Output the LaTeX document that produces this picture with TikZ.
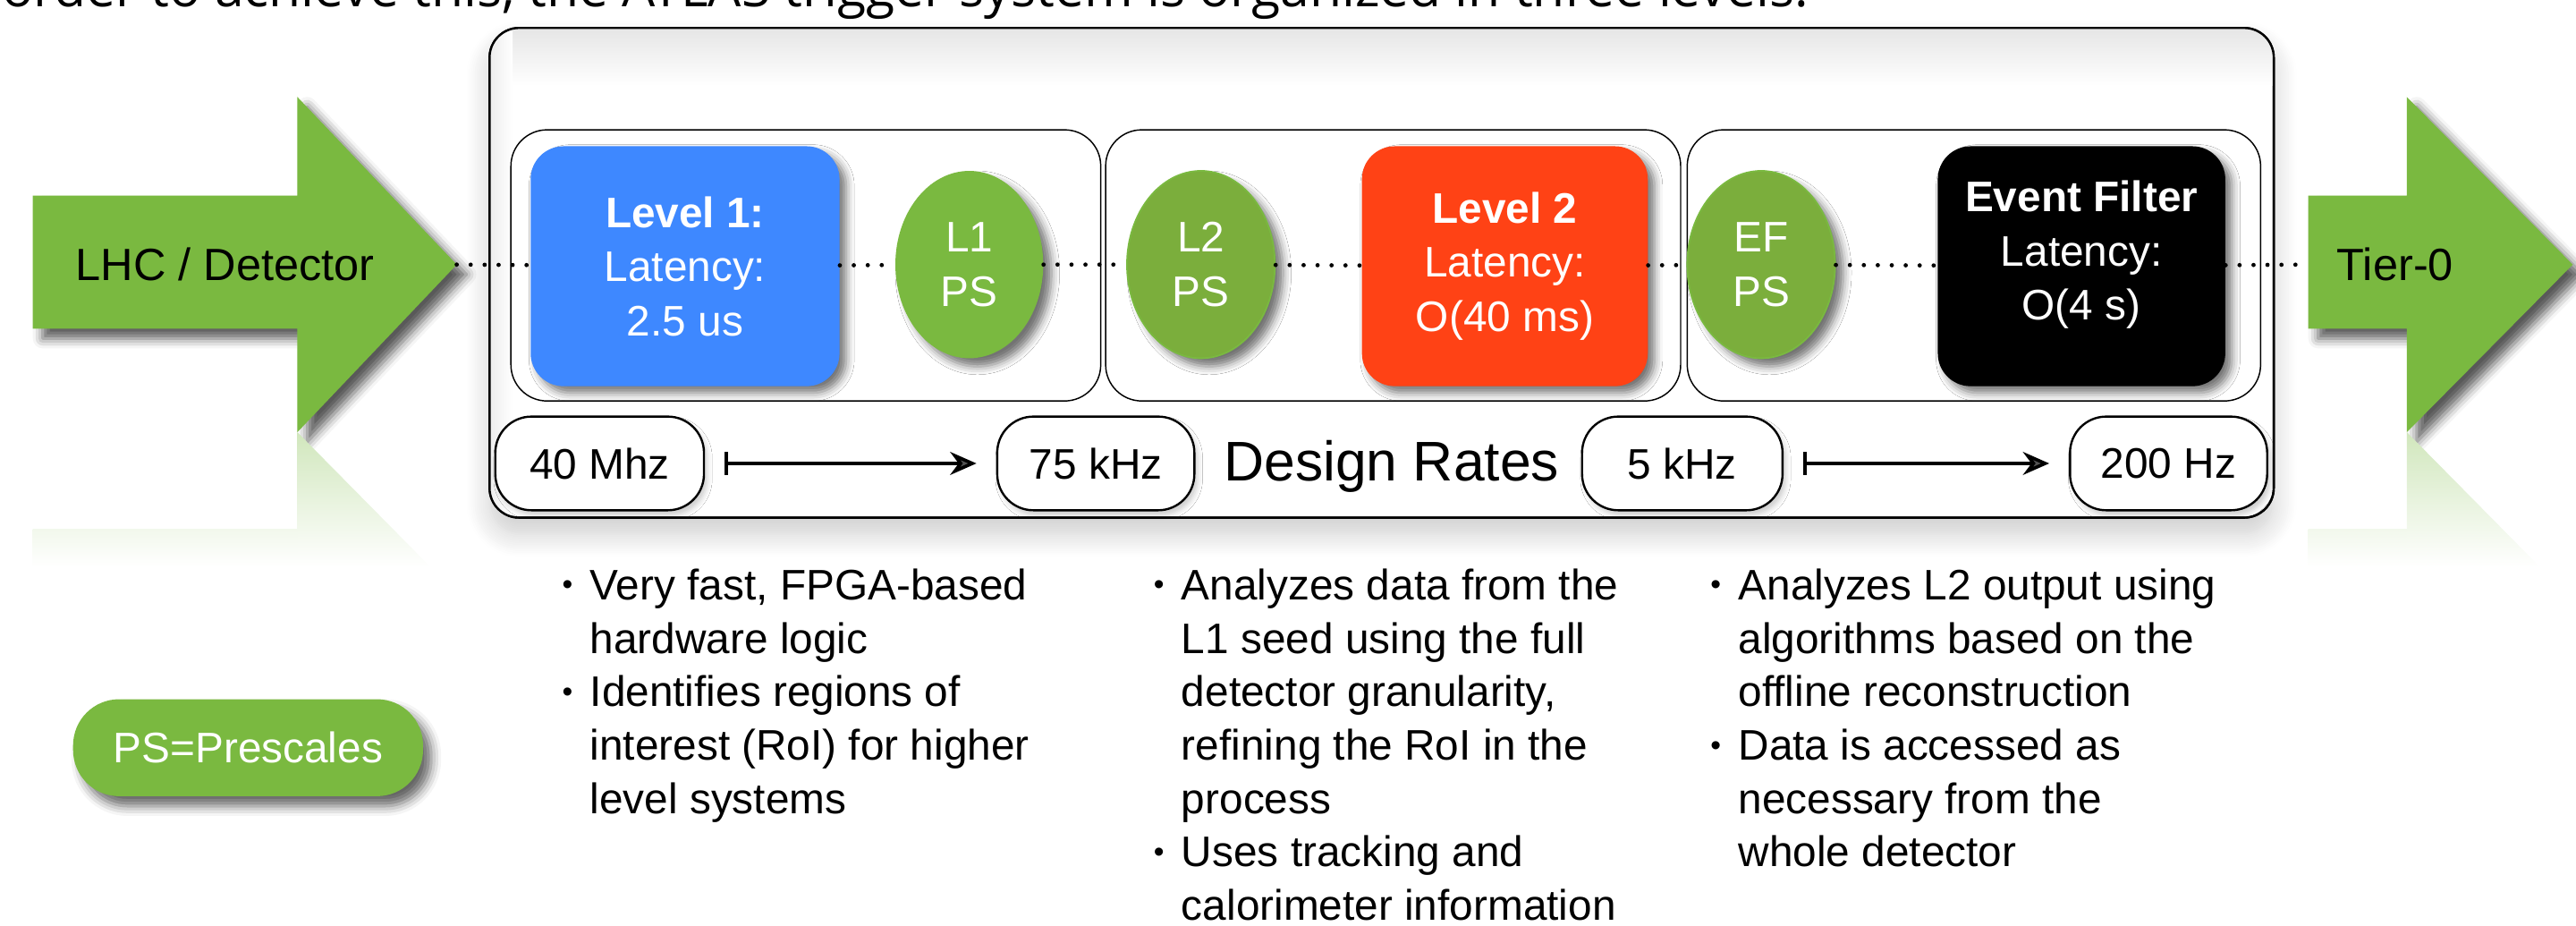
\documentclass[tikz,border=0pt]{standalone}
\usepackage{graphicx}
\usepackage{fontspec}
\setmainfont{Liberation Sans}
\newfontfamily\introfont{Open Sans}
\usetikzlibrary{arrows.meta, positioning, shapes.geometric, shadows.blur}

\definecolor{lhcgreen}{RGB}{122,185,64}
\definecolor{psgreen}{RGB}{123,174,60}
\definecolor{lvlblue}{RGB}{62,136,255}
\definecolor{lvlred}{RGB}{255,66,21}

\newcommand{\bitem}{\makebox[17pt][l]{\raisebox{3pt}{\scalebox{0.7}{\textbullet}}}}
\newcommand{\bcont}{\hspace*{17pt}}

\begin{document}
\begin{tikzpicture}[
        x=1pt, y=-1pt,
        every node/.style={font=\fontsize{26}{33}\selectfont, align=center, inner sep=0pt},
        levelbox/.style={rounded corners=20pt, text=white, minimum height=146pt,
            blur shadow={shadow xshift=4pt, shadow yshift=-4pt, shadow blur radius=5pt, shadow opacity=55}},
        psnode/.style={ellipse, text=white, minimum width=90pt, minimum height=114pt,
            blur shadow={shadow xshift=5pt, shadow yshift=-5pt, shadow blur radius=5pt, shadow opacity=55}},
        panel/.style={draw, fill=white, rounded corners=22pt, line width=0.8pt},
        ratebox/.style={draw, fill=white, rounded corners=22pt, line width=1.3pt, minimum height=57pt,
            blur shadow={shadow xshift=2pt, shadow yshift=-3pt, shadow blur radius=3pt, shadow opacity=20}},
        bigarrow/.style={fill=lhcgreen,
            blur shadow={shadow xshift=6pt, shadow yshift=-6pt, shadow blur radius=6pt, shadow opacity=65}},
        dotline/.style={line width=2.6pt, line cap=round, dash pattern=on 0pt off 8.5pt},
        rateline/.style={line width=2pt, arrows={Bar[width=14pt]-Stealth[length=16pt, width=14pt]},
            shorten <=12pt, shorten >=12pt},
        bullets/.style={anchor=north west, align=left, font=\fontsize{26}{32.5}\selectfont}
    ]
    \useasboundingbox (0,0) rectangle (1568,563);
    % Heading line cut by the page
    \node[anchor=base west, font=\introfont\fontsize{32}{36}\selectfont] (intro) at (1,4)
        {order to achieve this, the ATLAS trigger system is organized in three levels.};
    % Outer frame
    \draw[line width=1.3pt, fill=white, rounded corners=18pt,
        blur shadow={shadow xshift=0pt, shadow yshift=-10pt, shadow blur radius=14pt, shadow opacity=20, shadow blur steps=12}]
        (298,17) rectangle (1384,315);
    \begin{scope}
        \clip[rounded corners=18pt] (298,17) rectangle (1384,315);
        \shade[top color=black!10, bottom color=white] (298,17) rectangle (1384,52);
        \shade[left color=black!7, right color=white] (298,17) rectangle (312,315);
    \end{scope}
    \draw[line width=1.3pt, rounded corners=18pt] (298,17) rectangle (1384,315);
    % Panels
    \draw[panel] (311,79) rectangle (670,244);
    \draw[panel] (673,79) rectangle (1023,244);
    \draw[panel] (1027,79) rectangle (1376,244);
    % Input and output arrows
    \fill[bigarrow] (20,119) -- (181,119) -- (181,59) -- (278,161) -- (181,263) -- (181,200) -- (20,200) -- cycle;
    \shade[top color=lhcgreen!35, bottom color=white] (181,263) -- (262,345) -- (181,345) -- cycle;
    \shade[top color=lhcgreen!10, bottom color=white] (20,322) rectangle (181,345);
    \fill[bigarrow] (1405,119) -- (1465,119) -- (1465,59) -- (1566,161) -- (1465,263) -- (1465,200) -- (1405,200) -- cycle;
    \shade[top color=lhcgreen!35, bottom color=white] (1465,263) -- (1546,345) -- (1465,345) -- cycle;
    \shade[top color=lhcgreen!10, bottom color=white] (1405,322) rectangle (1465,345);
    % Define nodes
    \node[font=\fontsize{27.5}{33}\selectfont] (lhc) at (137,161) {LHC / Detector};
    \coordinate (lhctip) at (278,161);
    \node[font=\fontsize{27.5}{33}\selectfont] (tier) at (1458,161) {Tier-0};
    \coordinate (tiertail) at (1405,161);
    \node[levelbox, fill=lvlblue, minimum width=188pt] (lvl1) at (417,162) {\bfseries Level 1:\\Latency:\\2.5 us};
    \node[psnode, fill=lhcgreen] (l1ps) at (590,161) {L1\\PS};
    \node[psnode, fill=psgreen, draw=lhcgreen, line width=1pt] (l2ps) at (731,161) {L2\\PS};
    \node[levelbox, fill=lvlred, minimum width=174pt] (lvl2) at (916,162) {\bfseries Level 2\\Latency:\\O(40 ms)};
    \node[psnode, fill=psgreen, draw=lhcgreen, line width=1pt] (efps) at (1072,161) {EF\\PS};
    \node[levelbox, fill=black, minimum width=175pt,
        label={[text=white, yshift=7pt]center:{\bfseries Event Filter\\Latency:\\O(4 s)}}] (efbox) at (1267,162) {};
    % Design rates
    \node[ratebox, minimum width=127pt] (r40) at (365,282) {40 Mhz};
    \node[ratebox, minimum width=120pt] (r75) at (667,282) {75 kHz};
    \node[font=\fontsize{34}{40}\selectfont] (design) at (847,284) {Design Rates};
    \node[ratebox, minimum width=122pt] (r5) at (1024,282) {5 kHz};
    \node[ratebox, minimum width=120pt] (r200) at (1320,282) {200 Hz};
    % Draw edges
    \draw[dotline] (lhctip) -- (lvl1);
    \draw[dotline] (lvl1) -- (l1ps);
    \draw[dotline] (l1ps) -- (l2ps);
    \draw[dotline] (l2ps) -- (lvl2);
    \draw[dotline] (lvl2) -- (efps);
    \draw[dotline] (efps) -- (efbox);
    \draw[dotline] (efbox) -- (tiertail);
    \draw[rateline] (r40) -- (r75);
    \draw[rateline] (r5) -- (r200);
    % Notes under each level
    \node[bullets] (notes1) at (342,346) {\bitem Very fast, FPGA-based\\\bcont hardware logic\\\bitem Identifies regions of\\\bcont interest (RoI) for higher\\\bcont level systems};
    \node[bullets] (notes2) at (702,346) {\bitem Analyzes data from the\\\bcont L1 seed using the full\\\bcont detector granularity,\\\bcont refining the RoI in the\\\bcont process\\\bitem Uses tracking and\\\bcont calorimeter information};
    \node[bullets] (notes3) at (1041,346) {\bitem Analyzes L2 output using\\\bcont algorithms based on the\\\bcont offline reconstruction\\\bitem Data is accessed as\\\bcont necessary from the\\\bcont whole detector};
    \node[fill=lhcgreen, text=white, rounded corners=28pt, minimum width=213pt, minimum height=59pt,
        blur shadow={shadow xshift=5pt, shadow yshift=-6pt, shadow blur radius=6pt, shadow opacity=60}] (legend) at (151,455) {PS=Prescales};
\end{tikzpicture}
\end{document}
